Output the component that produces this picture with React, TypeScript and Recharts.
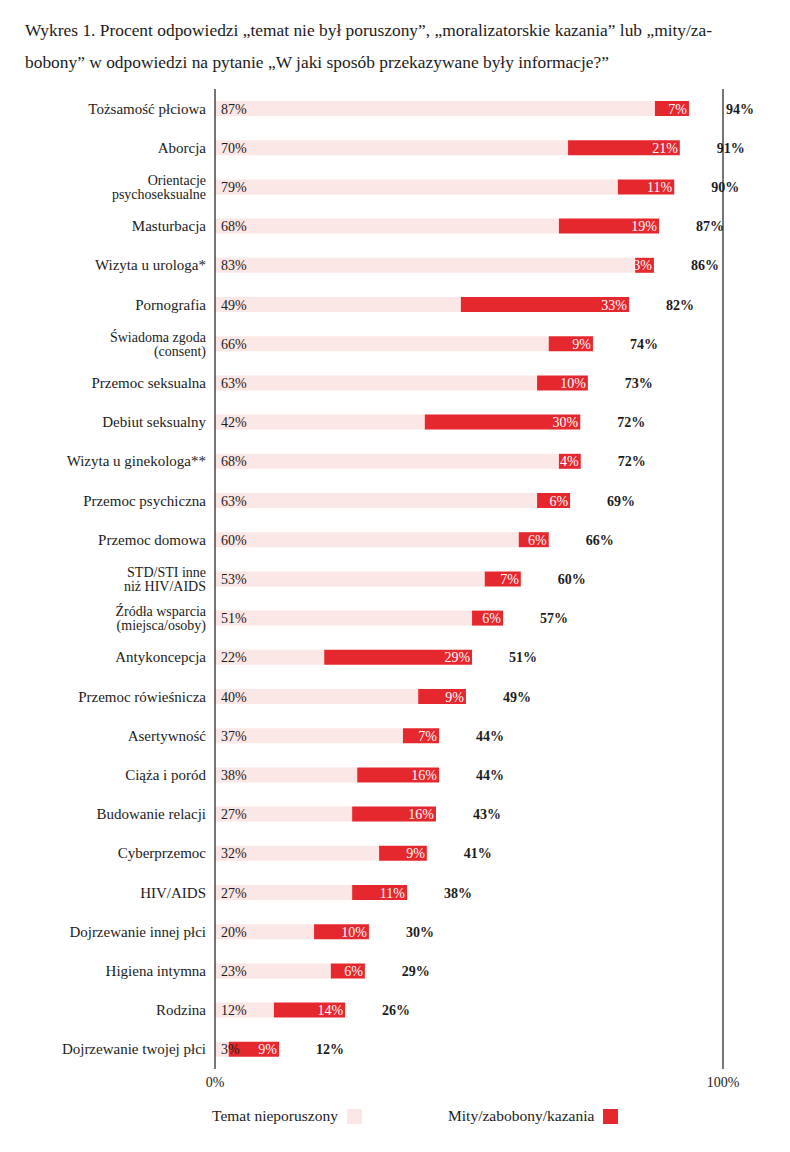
import { BarChart, Bar, XAxis, YAxis, ReferenceLine, LabelList } from "recharts";

// Kategorie (od góry)
const categories = [
  "Tożsamość płciowa",
  "Aborcja",
  "Orientacje\npsychoseksualne",
  "Masturbacja",
  "Wizyta u urologa*",
  "Pornografia",
  "Świadoma zgoda\n(consent)",
  "Przemoc seksualna",
  "Debiut seksualny",
  "Wizyta u ginekologa**",
  "Przemoc psychiczna",
  "Przemoc domowa",
  "STD/STI inne\nniż HIV/AIDS",
  "Źródła wsparcia\n(miejsca/osoby)",
  "Antykoncepcja",
  "Przemoc rówieśnicza",
  "Asertywność",
  "Ciąża i poród",
  "Budowanie relacji",
  "Cyberprzemoc",
  "HIV/AIDS",
  "Dojrzewanie innej płci",
  "Higiena intymna",
  "Rodzina",
  "Dojrzewanie twojej płci",
];

// długości słupków
const tematValues = [
  86.6, 69.5, 79.3, 67.7, 82.7, 48.4, 65.7, 63.4, 41.3, 67.7, 63.4, 59.8, 53.1,
  50.6, 21.5, 40.0, 37.0, 28.0, 27.0, 32.3, 27.0, 19.5, 22.8, 11.6, 2.7,
];
const mityValues = [
  6.7, 22.0, 11.1, 19.7, 3.7, 33.1, 8.7, 10.0, 30.6, 4.3, 6.5, 5.9, 7.1, 6.1,
  29.1, 9.4, 7.1, 16.1, 16.5, 9.4, 10.8, 10.8, 6.7, 14.0, 9.9,
];

// wartości podpisów
const tematLabels = [
  87, 70, 79, 68, 83, 49, 66, 63, 42, 68, 63, 60, 53, 51, 22, 40, 37, 38, 27,
  32, 27, 20, 23, 12, 3,
];
const mityLabels = [
  7, 21, 11, 19, 3, 33, 9, 10, 30, 4, 6, 6, 7, 6, 29, 9, 7, 16, 16, 9, 11, 10,
  6, 14, 9,
];
const totalLabels = [
  94, 91, 90, 87, 86, 82, 74, 73, 72, 72, 69, 66, 60, 57, 51, 49, 44, 44, 43,
  41, 38, 30, 29, 26, 12,
];

const xTicks = [0, 100];

const PINK = "#fce7e7";
const RED = "#e5282e";
const INK = "#1c1c1c";
const FONT = "'Liberation Serif', 'DejaVu Serif', serif";

const data = categories.map((name, i) => ({
  name,
  temat: tematValues[i],
  mity: mityValues[i],
  tematLabel: tematLabels[i],
  mityLabel: mityLabels[i],
  totalLabel: totalLabels[i],
}));

function CategoryTick(props: any) {
  const { x, y, payload } = props;
  const lines = String(payload.value).split("\n");
  const multi = lines.length > 1;
  const lh = 14;
  const start = -((lines.length - 1) * lh) / 2;
  return (
    <text x={x} y={y} textAnchor="end" fill={INK} fontSize={multi ? 14 : 15} fontFamily={FONT}>
      {lines.map((l, i) => (
        <tspan key={i} x={x} dy={i === 0 ? start + 5 : lh}>
          {l}
        </tspan>
      ))}
    </text>
  );
}

function TematLabel(props: any) {
  const { x, y, height, value } = props;
  return (
    <text x={x + 6} y={y + height / 2 + 5} fill={INK} fontSize={14} fontFamily={FONT}>
      {value}%
    </text>
  );
}

function MityLabel(props: any) {
  const { x, y, width, height, value } = props;
  return (
    <text
      x={x + width - 2}
      y={y + height / 2 + 5}
      textAnchor="end"
      fill="#ffffff"
      fontSize={14}
      fontFamily={FONT}
    >
      {value}%
    </text>
  );
}

function TotalLabel(props: any) {
  const { x, y, width, height, value } = props;
  return (
    <text
      x={x + width + 37}
      y={y + height / 2 + 5}
      fill={INK}
      fontSize={14}
      fontWeight="bold"
      fontFamily={FONT}
    >
      {value}%
    </text>
  );
}

function LegendItem({ left, label, color }: { left: number; label: string; color: string }) {
  return (
    <div
      style={{
        position: "absolute",
        left,
        top: 1107,
        display: "flex",
        alignItems: "center",
        gap: 9,
        fontFamily: FONT,
        fontSize: 15.5,
        color: INK,
      }}
    >
      <span>{label}</span>
      <span style={{ width: 15, height: 15, background: color, display: "inline-block" }} />
    </div>
  );
}

export default function App() {
  return (
    <div
      style={{
        position: "absolute",
        left: 0,
        top: 0,
        width: 790,
        height: 1152,
        background: "#ffffff",
        overflow: "hidden",
      }}
    >
      <div
        style={{
          position: "absolute",
          left: 25,
          top: 14,
          fontFamily: FONT,
          fontSize: 17.4,
          lineHeight: "32px",
          color: INK,
          whiteSpace: "nowrap",
        }}
      >
        <div>Wykres 1. Procent odpowiedzi „temat nie był poruszony”, „moralizatorskie kazania” lub „mity/za-</div>
        <div>bobony” w odpowiedzi na pytanie „W jaki sposób przekazywane były informacje?”</div>
      </div>

      <BarChart
        width={790}
        height={1152}
        data={data}
        layout="vertical"
        margin={{ top: 89, right: 67, bottom: 53, left: 0 }}
        barCategoryGap={0}
      >
        <XAxis
          type="number"
          domain={[0, 100]}
          ticks={xTicks}
          tickFormatter={(v) => `${v}%`}
          axisLine={false}
          tickLine={false}
          tickMargin={2}
          height={30}
          tick={{ fill: INK, fontSize: 14, fontFamily: FONT }}
        />
        <YAxis
          type="category"
          dataKey="name"
          width={215}
          axisLine={false}
          tickLine={false}
          tickSize={0}
          tickMargin={9}
          interval={0}
          tick={<CategoryTick />}
        />
        <ReferenceLine x={0} stroke={INK} strokeWidth={1.2} />
        <ReferenceLine x={100} stroke={INK} strokeWidth={1.2} />
        <Bar dataKey="temat" stackId="a" fill={PINK} barSize={15} isAnimationActive={false}>
          <LabelList dataKey="tematLabel" content={<TematLabel />} />
        </Bar>
        <Bar dataKey="mity" stackId="a" fill={RED} barSize={15} isAnimationActive={false}>
          <LabelList dataKey="mityLabel" content={<MityLabel />} />
          <LabelList dataKey="totalLabel" content={<TotalLabel />} />
        </Bar>
      </BarChart>

      <LegendItem left={212} label="Temat nieporuszony" color={PINK} />
      <LegendItem left={448} label="Mity/zabobony/kazania" color={RED} />
    </div>
  );
}
